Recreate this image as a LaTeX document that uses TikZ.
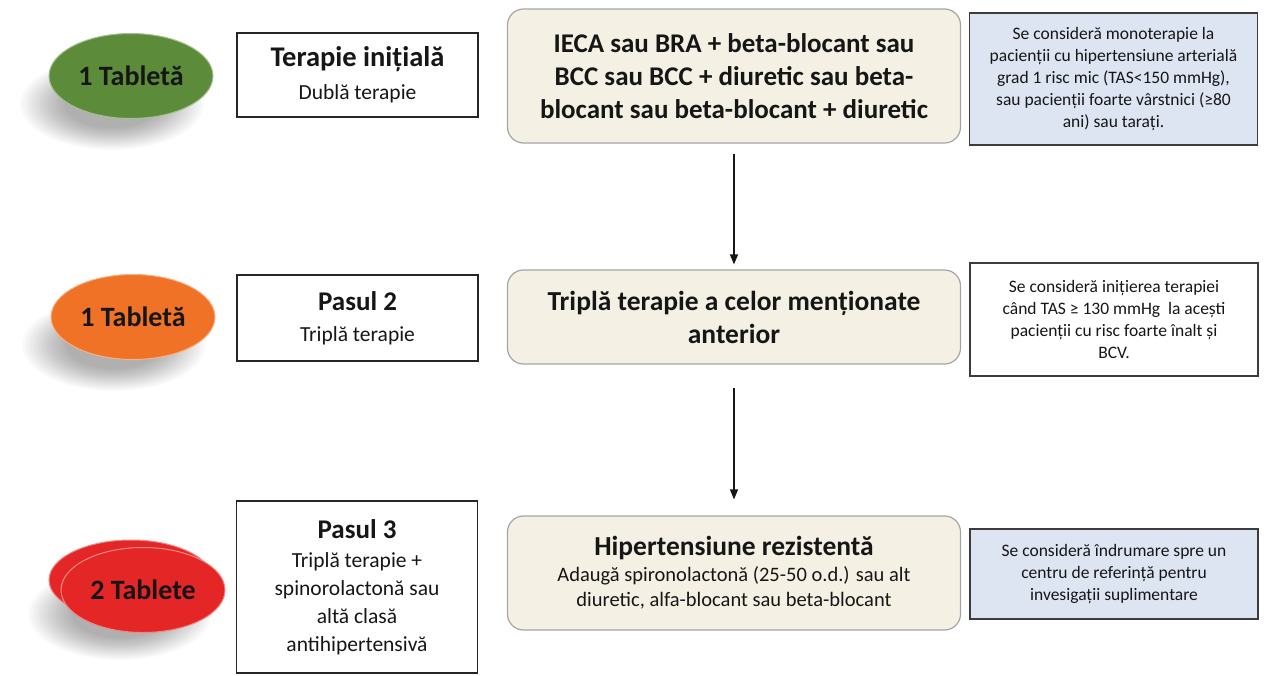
\documentclass[tikz,border=0pt]{standalone}
\usepackage{fontspec}
\setmainfont{Carlito}
\usetikzlibrary{arrows.meta, positioning, shapes.geometric}

\definecolor{pillgreen}{RGB}{92,140,58}
\definecolor{pillorange}{RGB}{240,114,38}
\definecolor{pillred}{RGB}{228,38,38}
\definecolor{stepfill}{RGB}{244,241,228}
\definecolor{stepline}{RGB}{165,165,165}
\definecolor{notefill}{RGB}{221,228,242}
\definecolor{noteline}{RGB}{60,60,60}
\definecolor{inktext}{RGB}{22,22,22}

% soft drop shadow below a pill
\newcommand{\pillshadow}[2]{%
  \foreach \s in {1.00,0.97,...,0.50}
    \fill[black,opacity=0.018] (#1,#2) ellipse ({\s*92} and {\s*46});
}

\begin{document}
\begin{tikzpicture}[x=1pt,y=-1pt,
    pill/.style={ellipse, minimum width=164pt, minimum height=85pt, inner sep=0pt,
      draw=#1!55!white, line width=1pt, fill=#1,
      font=\fontsize{28}{32}\selectfont\bfseries, text=inktext},
    levelbox/.style={draw=black!85, line width=1.3pt, fill=white, minimum width=241pt,
      align=center, text=inktext, font=\fontsize{21.5}{28}\selectfont},
    drugbox/.style={draw=stepline, fill=stepfill, rounded corners=16pt, line width=1.2pt,
      minimum width=453pt, align=center, text=inktext},
    notebox/.style={draw=noteline, line width=1.3pt, minimum width=288pt, align=center,
      text=inktext, font=\fontsize{17.5}{22}\selectfont},
    flowarrow/.style={-{Triangle[length=10pt,width=8pt]}, line width=1.4pt, draw=inktext}]

  \useasboundingbox (0,0) rectangle (1266,675);
  \fill[white] (0,0) rectangle (1266,675);

  % Tablets
  \pillshadow{112}{104}
  \node[pill=pillgreen] (pill1) at (131,76) {1 Tabletă};

  \pillshadow{114}{345}
  \node[pill=pillorange] (pill2) at (133,317) {1 Tabletă};

  \pillshadow{120}{614}
  \node[pill=pillred, minimum height=80pt] (pill3b) at (131,580) {};
  \node[pill=pillred] (pill3) at (143,590) {2 Tablete};

  % Steps
  \node[levelbox, minimum height=84pt] (step1) at (357.5,75)
    {{\fontsize{28.5}{33}\selectfont\bfseries Terapie inițială}\\[5pt] Dublă terapie};
  \node[levelbox, minimum height=86pt] (step2) at (357.5,318)
    {{\fontsize{27}{32}\selectfont\bfseries Pasul 2}\\[3pt] Triplă terapie};
  \node[levelbox, minimum height=172pt] (step3) at (357,587)
    {{\fontsize{27}{32}\selectfont\bfseries Pasul 3}\\[1pt] Triplă terapie +\\ spinorolactonă sau\\ altă clasă\\ antihipertensivă};

  % Treatments
  \node[drugbox, minimum height=134pt, font=\fontsize{27}{33}\selectfont\bfseries] (drug1) at (734,76)
    {IECA sau BRA + beta-blocant sau\\ BCC sau BCC + diuretic sau beta-\\ blocant sau beta-blocant + diuretic};
  \node[drugbox, minimum height=94pt, font=\fontsize{27.5}{33}\selectfont\bfseries] (drug2) at (734,317)
    {Triplă terapie a celor menționate\\ anterior};
  \node[drugbox, minimum height=114pt, font=\fontsize{20.5}{25}\selectfont] (drug3) at (734,573)
    {{\fontsize{27.5}{31}\selectfont\bfseries Hipertensiune rezistentă}\\[1pt] Adaugă spironolactonă (25-50 o.d.) sau alt\\ diuretic, alfa-blocant sau beta-blocant};

  % Notes
  \node[notebox, fill=notefill, minimum height=132pt] (note1) at (1113.5,79)
    {Se consideră monoterapie la\\ pacienții cu hipertensiune arterială\\ grad 1 risc mic (TAS<150 mmHg),\\ sau pacienții foarte vârstnici (≥80\\ ani) sau tarați.};
  \node[notebox, fill=white, minimum height=113pt] (note2) at (1114,319.5)
    {Se consideră inițierea terapiei\\ când TAS ≥ 130 mmHg\ \ la acești\\ pacienții cu risc foarte înalt și\\ BCV.};
  \node[notebox, fill=notefill, minimum height=90pt] (note3) at (1114,574)
    {Se consideră îndrumare spre un\\ centru de referință pentru\\ invesigații suplimentare};

  % Flow
  \draw[flowarrow, shorten <=10pt, shorten >=5pt] (drug1) -- (drug2);
  \draw[flowarrow, shorten <=23pt, shorten >=16pt] (drug2) -- (drug3);
\end{tikzpicture}
\end{document}
